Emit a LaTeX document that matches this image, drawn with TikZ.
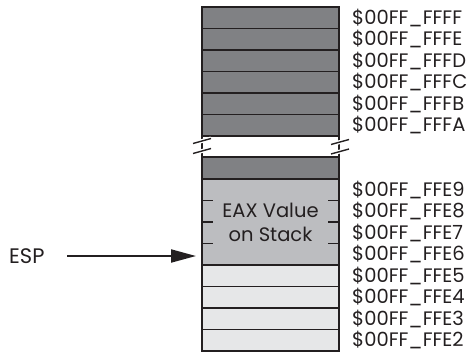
\documentclass[tikz,border=0pt]{standalone}
\usepackage{fontspec}
\setmainfont{Poppins}
\usetikzlibrary{arrows.meta}
\definecolor{darkrow}{HTML}{808184}
\definecolor{midrow}{HTML}{BCBDC0}
\definecolor{lightrow}{HTML}{E6E7E8}
\definecolor{ink}{HTML}{231F20}
\tikzset{
  addr/.style={anchor=west, inner sep=0pt, text=ink, font=\fontsize{19.5}{19.5}\selectfont},
  rowline/.style={draw=ink, line width=1.4pt},
  edge/.style={draw=ink, line width=1.6pt},
  brk/.style={draw=ink, line width=1.4pt},
  biglabel/.style={text=ink, font=\fontsize{19.5}{24}\selectfont, inner sep=0pt},
  ptr/.style={draw=ink, line width=2pt, -{Triangle[length=25pt,width=13pt]}}
}
\begin{document}
\begin{tikzpicture}[x=1pt,y=-1pt]
\useasboundingbox (0,0) rectangle (468,357);
% fills
\fill[darkrow] (202,7) rectangle (339,136);
\fill[white] (202,136) rectangle (339,157);
\fill[darkrow] (202,157) rectangle (339,179);
\fill[midrow] (202,179) rectangle (339,265);
\fill[lightrow] (202,265) rectangle (339,351);
% horizontal lines
\foreach \y in {7,28.5,50,71.5,93,114.5,136,157,179,265,286.5,308,329.5,351}
  \draw[rowline] (202,\y) -- (339,\y);
% short dashes in EAX block
\foreach \y in {200.5,222,243.5} {
  \draw[rowline] (202,\y) -- (213,\y);
  \draw[rowline] (328,\y) -- (339,\y);
}
% vertical edges
\draw[edge] (202,6.3) -- (202,351.7);
\draw[edge] (339,6.3) -- (339,351.7);
% break marks
\draw[white, line width=4pt] (193,143.5) -- (211,138.5);
\draw[white, line width=4pt] (193,153.5) -- (211,148.5);
\draw[white, line width=4pt] (331,144.5) -- (349,139.5);
\draw[white, line width=4pt] (331,154) -- (349,149);
\draw[brk] (193,143.5) -- (211,138.5);
\draw[brk] (193,153.5) -- (211,148.5);
\draw[brk] (331,144.5) -- (349,139.5);
\draw[brk] (331,154) -- (349,149);
% EAX text
\node[biglabel, align=center] (eax) at (270.5,222) {EAX Value\\on Stack};
% addresses
\node[addr] (aFFFF) at (352,17.75) {\$00FF\_FFFF};
\node[addr] (aFFFE) at (352,39.25) {\$00FF\_FFFE};
\node[addr] (aFFFD) at (352,60.75) {\$00FF\_FFFD};
\node[addr] (aFFFC) at (352,82.25) {\$00FF\_FFFC};
\node[addr] (aFFFB) at (352,103.75) {\$00FF\_FFFB};
\node[addr] (aFFFA) at (352,125.25) {\$00FF\_FFFA};
\node[addr] (aFFE9) at (352,189.75) {\$00FF\_FFE9};
\node[addr] (aFFE8) at (352,211.25) {\$00FF\_FFE8};
\node[addr] (aFFE7) at (352,232.75) {\$00FF\_FFE7};
\node[addr] (aFFE6) at (352,254.25) {\$00FF\_FFE6};
\node[addr] (aFFE5) at (352,275.75) {\$00FF\_FFE5};
\node[addr] (aFFE4) at (352,297.25) {\$00FF\_FFE4};
\node[addr] (aFFE3) at (352,318.75) {\$00FF\_FFE3};
\node[addr] (aFFE2) at (352,340.25) {\$00FF\_FFE2};
% ESP pointer
\node[biglabel, anchor=west, font=\fontsize{21}{21}\selectfont] (esp) at (9,256) {ESP};
\coordinate (espstart) at (67,256);
\coordinate (esptip) at (196,256);
\draw[ptr] (espstart) -- (esptip);
\end{tikzpicture}
\end{document}
